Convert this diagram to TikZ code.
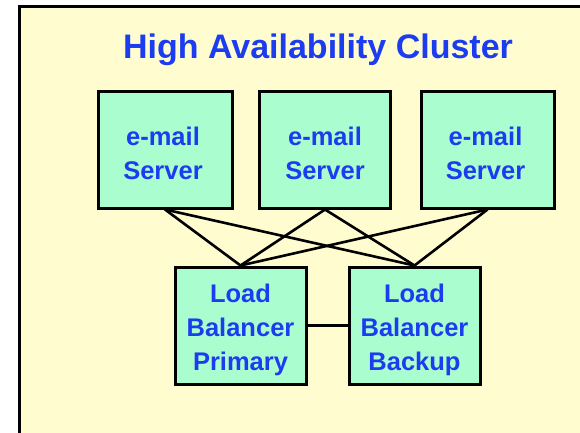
\documentclass[tikz,border=0pt]{standalone}
\usepackage{fontspec}
\setmainfont{Liberation Sans}
\definecolor{bgyellow}{RGB}{255,253,208}
\definecolor{mint}{RGB}{170,253,206}
\definecolor{txtblue}{RGB}{28,60,240}
\begin{document}
\begin{tikzpicture}[x=1pt,y=-1pt,
  box/.style={draw=black,line width=3pt,fill=mint,minimum width=132pt,minimum height=117pt,inner sep=0pt},
  boxtext/.style={align=center,text=txtblue,font=\bfseries\fontsize{25.5}{34}\selectfont,inner sep=0pt},
  link/.style={draw=black,line width=2.6pt}]
\useasboundingbox (0,0) rectangle (580,432);
\clip (0,0) rectangle (580,432);
\fill[white] (0,0) rectangle (580,432);
\draw[line width=3pt,fill=bgyellow] (19.5,6.5) rectangle (620,470);
\node[text=txtblue,font=\bfseries\fontsize{34}{40}\selectfont] (title) at (318,50) {High Availability Cluster};
\node[box,minimum width=134pt] (s1) at (165,149.5) {};
\node[box,minimum width=131pt] (s2) at (325,149.5) {};
\node[box,minimum width=133pt] (s3) at (487.5,149.5) {};
\node[box,minimum width=131pt] (lb1) at (240.5,325.5) {};
\node[box,minimum width=131pt] (lb2) at (414.5,325.5) {};
\node[boxtext] (t1) at ([xshift=-2pt,yshift=-4pt]s1.center) {e-mail\\Server};
\node[boxtext] (t2) at ([yshift=-4pt]s2.center) {e-mail\\Server};
\node[boxtext] (t3) at ([xshift=-2pt,yshift=-4pt]s3.center) {e-mail\\Server};
\node[boxtext] (t4) at ([yshift=-4pt]lb1.center) {Load\\Balancer\\Primary};
\node[boxtext] (t5) at ([yshift=-4pt]lb2.center) {Load\\Balancer\\Backup};
\foreach \s in {s1,s2,s3}{
  \draw[link] (\s.south) -- (lb1.north);
  \draw[link] (\s.south) -- (lb2.north);
}
\draw[link] (lb1.east) -- (lb2.west);
\end{tikzpicture}
\end{document}
